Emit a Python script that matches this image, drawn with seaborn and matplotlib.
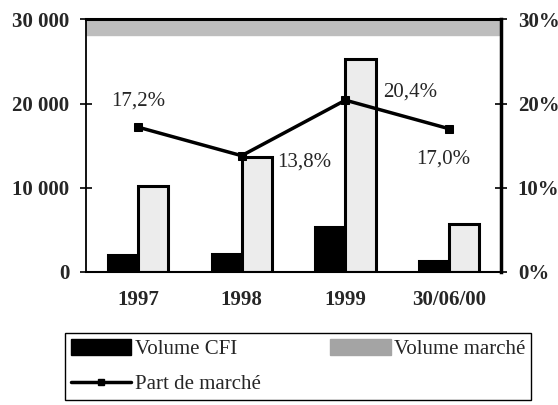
import numpy as np
import pandas as pd
import matplotlib
matplotlib.use("Agg")
import matplotlib.pyplot as plt
from matplotlib.patches import Patch
from matplotlib.lines import Line2D
from matplotlib.ticker import FuncFormatter, FixedLocator
import seaborn as sns

# Data
periodes = ["1997", "1998", "1999", "30/06/00"]
volume_cfi = [2000, 2100, 5300, 1300]
volume_marche = [10200, 13600, 25300, 5700]
part_marche = [17.2, 13.8, 20.4, 17.0]
part_labels = ["17,2%", "13,8%", "20,4%", "17,0%"]

sns.set_theme(style="white")
plt.rcParams["font.family"] = ["Liberation Serif", "DejaVu Serif"]
plt.rcParams["font.size"] = 15

df = pd.DataFrame({
    "periode": periodes * 2,
    "volume": volume_cfi + volume_marche,
    "serie": ["Volume CFI"] * 4 + ["Volume marché"] * 4,
})

fig = plt.figure(figsize=(5.58, 4.05), dpi=100)
ax = fig.add_axes([0.154, 0.329, 0.744, 0.623])

sns.barplot(data=df, x="periode", y="volume", hue="serie", order=periodes,
            palette={"Volume CFI": "black", "Volume marché": "#ececec"},
            width=0.58, gap=0, edgecolor="black", linewidth=2.2,
            legend=False, ax=ax)

# grey band along the top of the plot area (as in the scan)
ax.axhspan(28200, 30000, color="#bdbdbd", zorder=0)

ax.set_xlim(-0.5, 3.5)
ax.set_ylim(0, 30000)
ax.set_yticks([0, 10000, 20000, 30000])
ax.yaxis.set_major_formatter(FuncFormatter(lambda v, p: f"{int(v):,}".replace(",", " ")))
ax.set_xlabel("")
ax.set_ylabel("")

ax.xaxis.set_minor_locator(FixedLocator([0.5, 1.5, 2.5]))
ax.tick_params(axis="x", which="major", length=0, pad=13)
ax.tick_params(axis="x", which="minor", direction="out", length=7, width=1.2, color="black")
ax.tick_params(axis="y", direction="inout", length=8, width=1.2, color="black", pad=8)
for lbl in ax.get_xticklabels() + ax.get_yticklabels():
    lbl.set_fontweight("bold")
    lbl.set_fontsize(15)

for side in ["left", "bottom", "top", "right"]:
    ax.spines[side].set_visible(True)
    ax.spines[side].set_color("black")
ax.spines["left"].set_linewidth(1.3)
ax.spines["bottom"].set_linewidth(1.5)
ax.spines["top"].set_linewidth(2.2)

# market share on secondary axis
ax2 = ax.twinx()
x_pos = np.arange(len(periodes))
sns.lineplot(x=x_pos, y=part_marche, ax=ax2, color="black", linewidth=2.5,
             marker="s", markersize=6, markeredgecolor="black")
ax2.set_ylim(0, 30)
ax2.set_xlim(-0.5, 3.5)
ax2.set_yticks([0, 10, 20, 30])
ax2.set_yticklabels(["0%", "10%", "20%", "30%"])
ax2.tick_params(axis="y", direction="inout", length=8, width=1.2, color="black", pad=8)
for lbl in ax2.get_yticklabels():
    lbl.set_fontweight("bold")
    lbl.set_fontsize(15)
ax2.spines["right"].set_linewidth(2.5)
ax2.spines["right"].set_color("black")
ax2.spines["top"].set_visible(False)
ax2.spines["left"].set_visible(False)
ax2.spines["bottom"].set_visible(False)

offsets = [(0, 26, "center"), (36, -6, "left"), (38, 8, "left"), (-6, -30, "center")]
for i, (dx, dy, ha) in enumerate(offsets):
    ax2.annotate(part_labels[i], (x_pos[i], part_marche[i]), xytext=(dx, dy),
                 textcoords="offset pixels", ha=ha, va="center", fontsize=15)

handles = [
    Patch(facecolor="black", edgecolor="black", label="Volume CFI"),
    Line2D([0], [0], color="black", linewidth=2.5, marker="s", markersize=5,
           label="Part de marché"),
    Patch(facecolor="#a4a4a4", edgecolor="#a4a4a4", label="Volume marché"),
]
fig.legend(handles=handles, loc="upper left", ncol=2,
           bbox_to_anchor=(0.116, 0.178),
           frameon=True, fancybox=False, edgecolor="black", framealpha=1,
           handlelength=2.9, handleheight=0.8, handletextpad=0.15,
           columnspacing=3.35, labelspacing=0.7, borderpad=0.3,
           borderaxespad=0, fontsize=15)

fig.savefig("out.png", dpi=100)
